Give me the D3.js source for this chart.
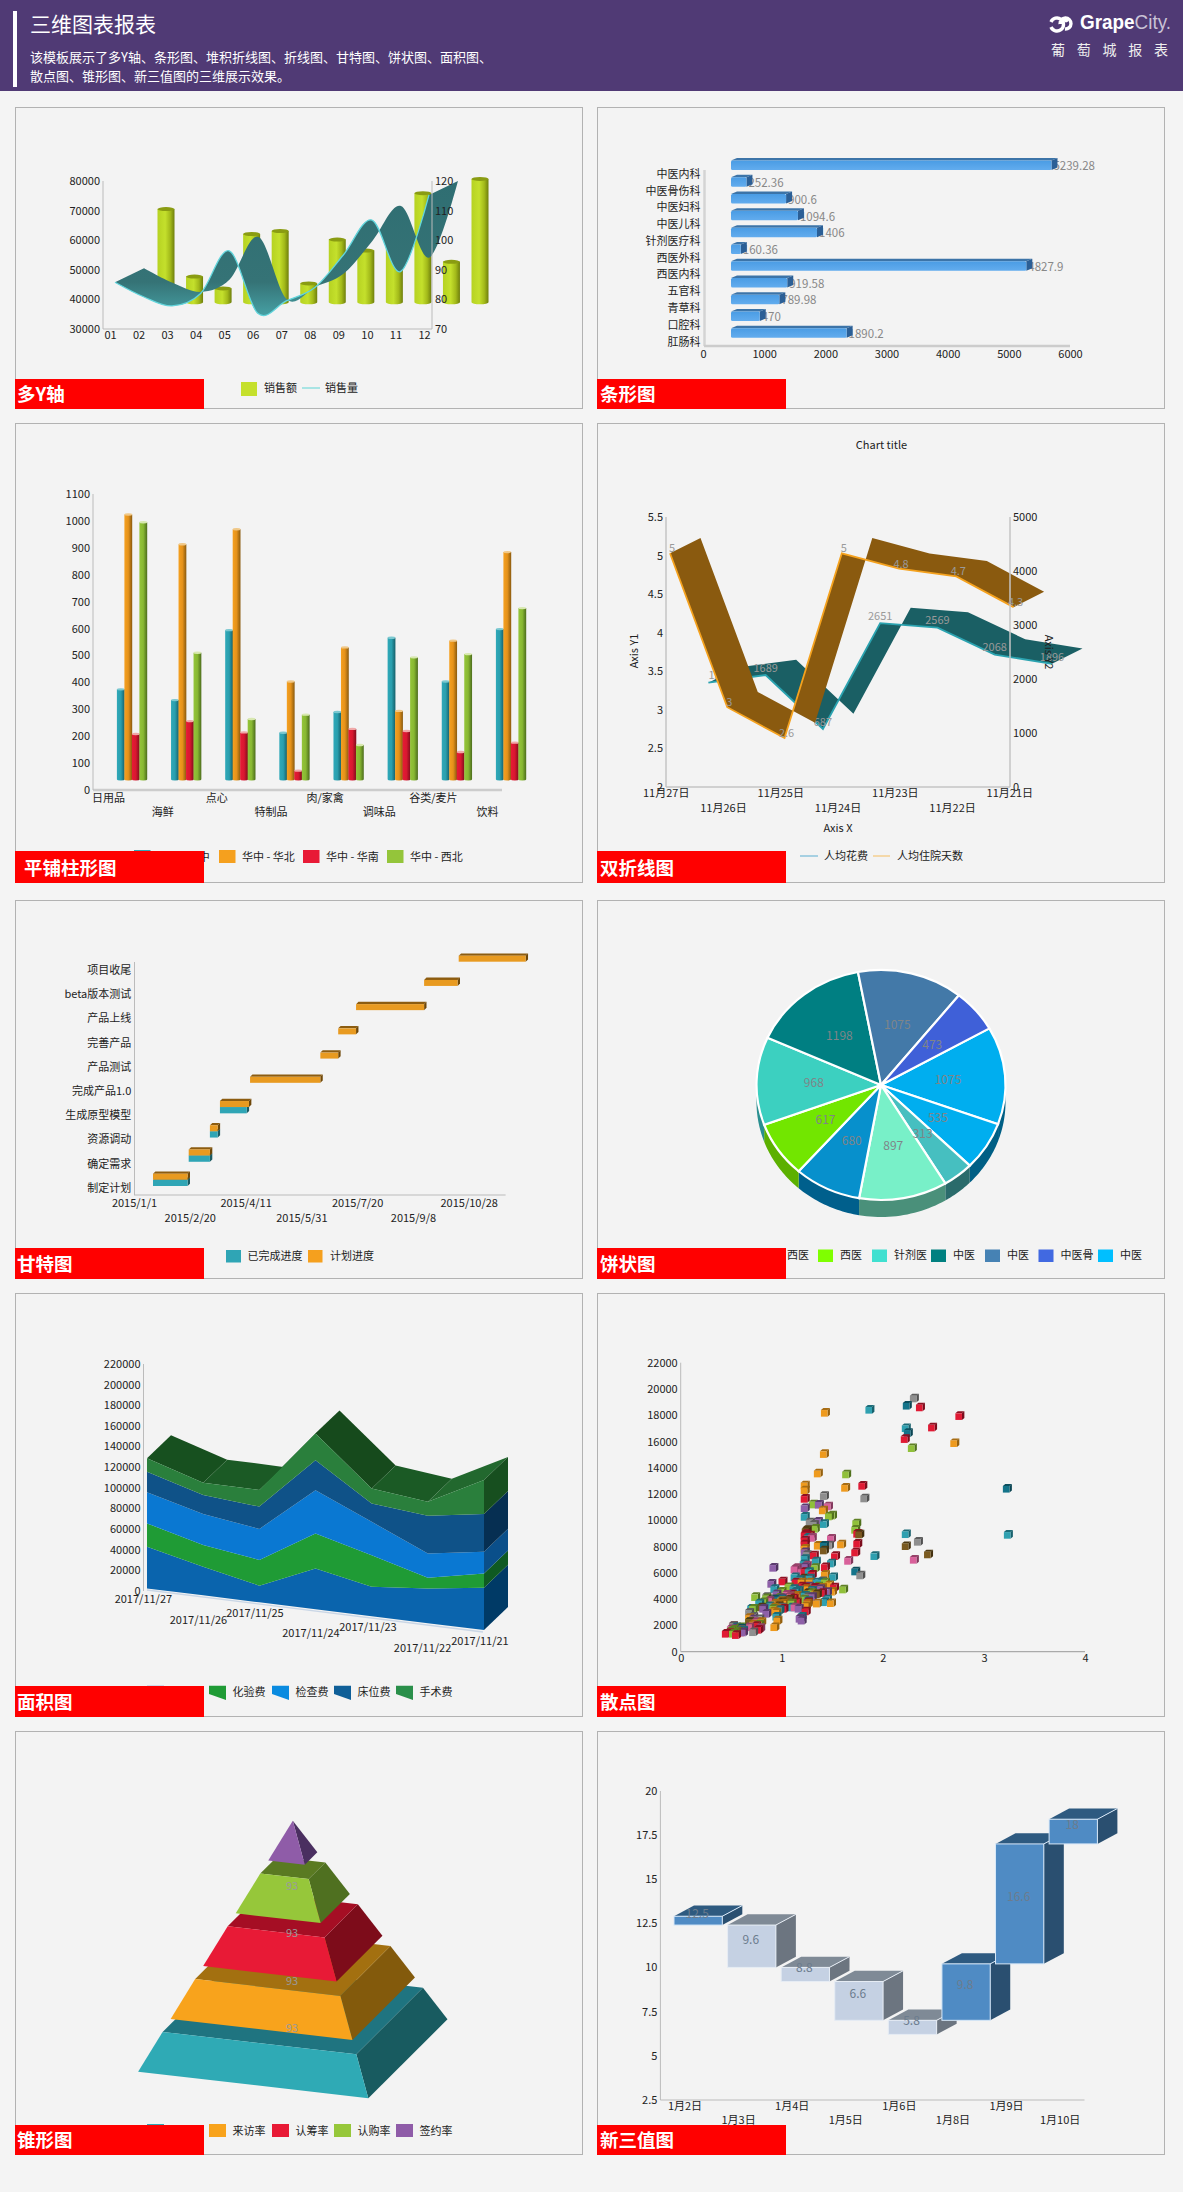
<!DOCTYPE html>
<html><head><meta charset="utf-8">
<script src="https://cdn.jsdelivr.net/npm/d3@7/dist/d3.min.js"></script>
<style>html,body{margin:0;padding:0;background:#f4f4f4}svg{display:block}</style>
</head><body><div id="c"></div>
<script>
// ---------- data ----------
const months=['01','02','03','04','05','06','07','08','09','10','11','12'];
const salesAmount=[70500,47700,43700,62100,63100,45400,60200,56500,59500,75900,52700,80700];
const salesVolume=[85.8,80.9,77.8,82,96.4,75.3,79.5,84,95,106.8,89.4,115.3];

const deptNames=['中医内科','中医骨伤科','中医妇科','中医儿科','针剂医疗科','西医外科','西医内科','五官科','青草科','口腔科','肛肠科'];
const deptValues=[5239.28,252.36,900.6,1094.6,1406,160.36,4827.9,919.58,789.98,470,1890.2];

const goodsCats=['日用品','海鲜','点心','特制品','肉/家禽','调味品','谷类/麦片','饮料'];
const regionNames=['华中 - 华中','华中 - 华北','华中 - 华南','华中 - 西北'];
const regionCC=[374,334,594,213,290,566,403,598];
const regionCN=[1024,913,969,403,530,294,555,884];
const regionCS=[208,256,214,72,227,219,141,176];
const regionCW=[995,510,264,280,167,493,505,676];

const dayLabels=['11月27日','11月26日','11月25日','11月24日','11月23日','11月22日','11月21日'];
const daysInHospital=[5,3,2.6,5,4.8,4.7,4.3];
const avgCost=[1547,1689,687,2651,2569,2068,1896];

const taskNames=['项目收尾','beta版本测试','产品上线','完善产品','产品测试','完成产品1.0','生成原型模型','资源调动','确定需求','制定计划'];
const planStart=['2015-10-02','2015-09-01','2015-07-02','2015-06-16','2015-05-31','2015-03-29','2015-03-02','2015-02-21','2015-02-02','2015-01-01'];
const planEnd=['2015-12-01','2015-10-01','2015-09-01','2015-07-02','2015-06-16','2015-05-31','2015-03-28','2015-02-28','2015-02-21','2015-02-01'];
const doneEnd=[null,null,null,null,null,null,'2015-03-26','2015-02-28','2015-02-21','2015-02-01'];
const ganttTicks=['2015-01-01','2015-02-20','2015-04-11','2015-05-31','2015-07-20','2015-09-08','2015-10-28'];
const ganttTickLabels=['2015/1/1','2015/2/20','2015/4/11','2015/5/31','2015/7/20','2015/9/8','2015/10/28'];

const pieValues=[1075,535,313,897,680,617,968,1198,1075,473];
const pieLegend=['西医','西医','针剂医','中医','中医','中医骨','中医'];

const areaDates=['2017/11/27','2017/11/26','2017/11/25','2017/11/24','2017/11/23','2017/11/22','2017/11/21'];
const areaBed=[40450,27830,16180,39480,28480,33660,41100];
const areaLab=[22650,21040,24920,33980,30740,10360,13920];
const areaExam=[30100,30100,30100,42070,32360,23620,21040];
const areaWard=[20060,18450,21680,29130,17800,36570,36570];
const areaSurgery=[12950,11970,16180,25890,14560,13590,33010];
const areaLegend=['药品费','化验费','检查费','床位费','手术费'];

const scatterTeal=[[1.87,18450],[2.23,17050],[3.24,8930],[2.23,8980],[1.92,7310],[1.23,10300],[1.42,9750],[1.49,6750],[1.51,5710],[.55,1900],[.62,1650],[.7,3300],[.78,3700],[.95,2700],[.93,4800],[1.1,3400],[1.14,4600],[1.2,2700],[1.23,7100],[1.22,6700],[1.28,5600],[1.3,4700],[1.34,6900],[1.4,5300],[1.42,3800],[1.45,4000],[1.26,3900],[1.18,5500],[1.13,5700],[1,4000],[1.26,8700],[.88,3500],[.98,3200],[1.17,4700],[1.35,5300],[1.23,4300],[1.27,6100],[1.12,4800]];
const scatterDarkTeal=[[2.24,18760],[2.25,16680],[3.23,12440],[1.73,6140],[1.42,8100],[.6,1800],[.94,4000]];
const scatterOrange=[[1.43,18220],[1.42,15080],[1.36,13600],[1.63,12510],[2.71,15910],[1.59,8200],[1.23,12690],[1.23,12310],[1.41,10790],[1.49,3730],[.93,1900],[1.23,7870],[1.43,5890],[.68,2600],[.72,2100],[.95,3000],[.93,3400],[.97,3600],[1,3900],[1.02,3700],[1.24,3500],[1.26,3700],[1.35,3700],[1.4,4900],[1.47,5100],[1.5,4600],[1.2,5300],[1.28,5300],[1.15,4300],[1.24,4800],[.96,2400],[.8,2300],[1.08,4200],[1.33,4400],[1.36,8100],[.92,3100],[.98,3300],[.94,3700]];
const scatterRed=[[2.37,18630],[2.76,17970],[2.49,17100],[2.22,16220],[1.8,12660],[1.23,11670],[1.75,8250],[1.73,7590],[1.53,7310],[1.32,7360],[1.43,6470],[1.01,5380],[1.23,8880],[1.28,8880],[1.52,4920],[1.75,9010],[.45,1400],[.48,1450],[.55,1300],[.6,1500],[.52,2000],[.75,2000],[.77,1700],[1.12,4100],[1.1,4400],[1.15,3800],[1.23,4900],[1.26,3800],[1.23,8500],[1.23,8200],[1.23,6100],[1.24,3100],[1.2,5000],[1.4,4500],[1.02,3300],[1.14,5300],[1.33,4900],[1.3,5900],[1.24,9000]];
const scatterGreen=[[2.29,15530],[1.64,13530],[1.31,11240],[1.47,10330],[1.33,9390],[1.74,9800],[1.73,9310],[1.61,4770],[1.33,6400],[1.07,4950],[.74,4190],[.98,4140],[.52,1400],[.6,1900],[.5,1600],[.55,1450],[.72,3300],[.68,2300],[.85,4100],[.82,3800],[.92,3300],[1.22,4000],[1.3,4500],[1.1,3700],[1.36,5000],[.58,1800],[1,4600],[.78,2100],[1.43,5300],[1.5,10400],[.53,1700],[.57,1550]];
const scatterGray=[[2.31,19310],[2.35,8400],[1.42,11880],[1.82,11700],[1.78,5840],[1.28,9870],[1.47,8120],[.68,2990],[.72,1520],[.52,2000],[.6,1700],[.85,4200],[.92,4000],[.72,2700],[1.26,4200],[1,3400],[1.32,9700],[.78,2500],[1.25,7400],[1.4,5400]];
const scatterPurple=[[1.37,11220],[1.23,10960],[1.36,9920],[.92,6420],[.9,5200],[1.23,6470],[1.18,2540],[1.45,4570],[.85,2920],[.55,1800],[.72,2500],[.82,3300],[.95,4400],[1.2,2400],[1.27,5000],[1,4100],[1.3,4200],[1.23,7600],[1.17,3300],[1.38,4800],[.62,1500]];
const scatterPink=[[1.46,11090],[1.49,8630],[1.66,6950],[2.31,7030],[1.13,6290],[1.05,4370],[.79,1830],[.5,1750],[.68,1900],[.75,2300],[1.08,4200],[1.15,6400],[1.2,6100],[.88,3900],[1.25,6600],[1.13,3400],[1.3,8700]];
const scatterBrown=[[2.23,8070],[2.45,7440],[1.24,9190],[1.42,7740],[1.77,8960],[.68,2300],[.8,3400],[.9,4000],[1,3800],[1.08,4000],[1.26,4500],[1.35,4400],[.97,3500],[1.25,9300],[1.22,5600]];

const stageNames=['到访率','来访率','认筹率','认购率','签约率'];
const stageLabels=[93,93,93,93];

const boxDays=['1月2日','1月3日','1月4日','1月5日','1月6日','1月8日','1月9日','1月10日'];
const boxLow=[12,12,9.6,8.8,6.6,6.6,9.8,16.6];
const boxHigh=[12.5,9.6,8.8,6.6,5.8,9.8,16.6,18];
const boxText=['12.5','9.6','8.8','6.6','5.8','9.8','16.6','18'];

// ---------- helpers ----------
const FONT='"Noto Sans CJK SC","Noto Sans",sans-serif';
const svg=d3.select('#c').append('svg').attr('width',1183).attr('height',2192).attr('font-family',FONT);
const defs=svg.append('defs');
function grad(id,stops,vertical){
  const g=defs.append('linearGradient').attr('id',id).attr('x1',0).attr('y1',0).attr('x2',vertical?0:1).attr('y2',vertical?1:0);
  stops.forEach(s=>g.append('stop').attr('offset',s[0]).attr('stop-color',s[1]));
}
function txt(p,x,y,s,o={}){
  const t=p.append('text').attr('x',x).attr('y',y).attr('dy','.35em').attr('font-size',o.size||11).attr('fill',o.fill||'#222').attr('text-anchor',o.anchor||'start').text(s);
  if(o.weight)t.attr('font-weight',o.weight);
  if(o.rotate)t.attr('transform',`rotate(${o.rotate},${x},${y})`);
  return t;
}
function rect(p,x,y,w,h,f){return p.append('rect').attr('x',x).attr('y',y).attr('width',w).attr('height',h).attr('fill',f);}
function poly(p,pts,f){return p.append('polygon').attr('points',pts.map(q=>q.join(',')).join(' ')).attr('fill',f);}
function hline(p,x0,x1,y,w,c){return p.append('line').attr('x1',x0).attr('x2',x1).attr('y1',y).attr('y2',y).attr('stroke',c||'#bbb').attr('stroke-width',w||1);}
function vline(p,x,y0,y1,w,c){return p.append('line').attr('x1',x).attr('x2',x).attr('y1',y0).attr('y2',y1).attr('stroke',c||'#bbb').attr('stroke-width',w||1);}
function axisStyle(s){
  s.attr('font-family',FONT).attr('font-size',11);
  s.selectAll('.domain').remove();
  s.selectAll('.tick line').remove();
  s.selectAll('text').attr('fill','#222');
}
function yAxis(p,scale,x,vals,orient){
  const a=(orient==='right'?d3.axisRight(scale):d3.axisLeft(scale)).tickValues(vals).tickSize(0).tickPadding(3).tickFormat(d=>String(d));
  return p.append('g').attr('transform',`translate(${x},0)`).call(a).call(axisStyle);
}
function xAxis(p,scale,y,row2,fmt){
  const a=d3.axisBottom(scale).tickSize(0);
  if(fmt)a.tickFormat(fmt);
  const g=p.append('g').attr('transform',`translate(0,${y})`).call(a).call(axisStyle);
  g.selectAll('.tick text').attr('dy','.35em').attr('y',(d,i)=>i%2?row2:0);
  return g;
}
function cylinderPath(cx,rx,ry,yT,yB){return `M${cx-rx},${yT}V${yB}A${rx},${ry} 0 0 0 ${cx+rx},${yB}V${yT}Z`;}
function cylinder(p,cx,rx,ry,yT,yB,fillId,cap){
  p.append('path').attr('d',cylinderPath(cx,rx,ry,yT,yB)).attr('fill',`url(#${fillId})`);
  p.append('ellipse').attr('cx',cx).attr('cy',yT).attr('rx',rx).attr('ry',ry).attr('fill',cap);
}
function ribbonPath(line,pts,dx,dy){
  const back=pts.map(q=>[q[0]+dx,q[1]+dy]).reverse();
  return line(pts)+'L'+line(back).slice(1)+'Z';
}

// ---------- page frame ----------
rect(svg,0,0,1183,91,'#503a75');
rect(svg,13,11,4,76,'#fff');
txt(svg,30,25,'三维图表报表',{size:21,fill:'#fff'});
txt(svg,30,57,'该模板展示了多Y轴、条形图、堆积折线图、折线图、甘特图、饼状图、面积图、',{size:13,fill:'#fff'});
txt(svg,30,76,'散点图、锥形图、新三值图的三维展示效果。',{size:13,fill:'#fff'});
svg.append('path').attr('d','M1051,22A6.5,6.5 0 1 1 1051,27M1060,24A5.5,5.5 0 1 1 1065,29').attr('fill','none').attr('stroke','#fff').attr('stroke-width',3.4);
svg.append('circle').attr('cx',1066).attr('cy',20).attr('r',2.4).attr('fill','#fff');
const logo=svg.append('text').attr('x',1080).attr('y',29).attr('font-family','"Liberation Sans",sans-serif').attr('font-size',21).attr('textLength',91).attr('lengthAdjust','spacingAndGlyphs');
logo.append('tspan').attr('fill','#fff').attr('font-weight','bold').text('Grape');
logo.append('tspan').attr('fill','#c9c2d6').text('City.');
txt(svg,1051,50,'葡 萄 城 报 表',{size:14,fill:'#eee'}).attr('textLength',117);

const cols=[15,597];
const rows=[[107,408],[423,882],[900,1278],[1293,1716],[1731,2154]];
const tagTops=[379,851,1248,1686,2125];
const tagTexts=[['多Y轴','条形图'],['平铺柱形图','双折线图'],['甘特图','饼状图'],['面积图','散点图'],['锥形图','新三值图']];
const tagIndent=[[2,3],[9,3],[2,3],[2,3],[2,3]];
rows.forEach(r=>cols.forEach(x=>{
  svg.append('rect').attr('x',x+.5).attr('y',r[0]+.5).attr('width',567).attr('height',r[1]-r[0]).attr('fill','#f3f3f3').attr('stroke','#b2b2b2');
}));
const chart=svg.append('g');

// ---------- 1. dual Y axis ----------
(function(){
  const g=chart.append('g');
  grad('cylLime',[[0,'#b6d222'],[.45,'#c4e02c'],[.75,'#a3ba1a'],[1,'#6f7f0c']]);
  grad('ribbonTeal',[[0,'#2f6e72'],[.75,'#357376'],[1,'#46a0a4']],true);
  const yL=d3.scaleLinear([30000,80000],[329,181]);
  const yR=d3.scaleLinear([70,120],[329,181]);
  const x=d3.scalePoint(months,[110,424]);
  vline(g,103,181,329);hline(g,103,432,329);
  salesAmount.forEach((v,i)=>cylinder(g,x(months[i])+56,8.5,2,yL(v),yL(39000),'cylLime','#8a9c12'));
  const pts=salesVolume.map((v,i)=>[x(months[i])+5,yR(v)]);
  const line=d3.line().curve(d3.curveCatmullRom.alpha(0));
  g.append('path').attr('d',ribbonPath(line,pts,29,-14)).attr('fill','url(#ribbonTeal)');
  g.append('path').attr('d',line(pts)).attr('fill','none').attr('stroke','#62d5dc').attr('stroke-width',1.3);
  vline(g,432,181,329);
  yAxis(g,yL,103,d3.range(30000,80001,10000));
  yAxis(g,yR,432,d3.range(70,121,10),'right');
  const a=g.append('g').attr('transform','translate(0,332)').call(d3.axisBottom(x).tickSize(0)).call(axisStyle);
  a.selectAll('text').attr('y',0).attr('dy','.6em');
  rect(g,241,382,16,14,'#c5e02c');txt(g,264,388,'销售额');
  hline(g,302,320,388,2,'#a8e4e4');txt(g,325,388,'销售量');
})();

// ---------- 2. horizontal bars ----------
(function(){
  const g=chart.append('g');
  grad('barBlue',[[0,'#4a9ce4'],[1,'#62acee']],true);
  const x=d3.scaleLinear([0,6000],[703,1070]);
  const y=d3.scalePoint(deptNames,[174,341.7]);
  deptNames.forEach((n,i)=>{
    const x0=x(0)+28, x1=x0+x(deptValues[i])-x(0), yc=y(n)-8.7, h=9.5;
    txt(g,x1+2,yc+1,String(deptValues[i]),{fill:'#888',size:11.5});
    poly(g,[[x0,yc-h/2],[x0+6,yc-h/2-2.5],[x1+6,yc-h/2-2.5],[x1,yc-h/2]],'#3c74a8');
    poly(g,[[x1,yc-h/2],[x1+6,yc-h/2-2.5],[x1+6,yc+h/2-2.5],[x1,yc+h/2]],'#2b5f96');
    g.append('rect').attr('x',x0).attr('y',yc-h/2).attr('width',x1-x0).attr('height',h).attr('rx',1.5).attr('fill','url(#barBlue)');
    txt(g,700.5,y(n),n,{anchor:'end'});
  });
  vline(g,704.5,170,346,2.5,'#d4d4d4');hline(g,704,1070,346,2.5,'#ccc');
  const a=g.append('g').attr('transform','translate(0,354)').call(d3.axisBottom(x).tickValues(d3.range(0,6001,1000)).tickSize(0).tickFormat(d=>String(d))).call(axisStyle);
  a.selectAll('text').attr('y',0).attr('dy','.35em');
})();

// ---------- 3. flat column chart ----------
(function(){
  const g=chart.append('g');
  const series=[regionCC,regionCN,regionCS,regionCW];
  const styles=[['cylTeal',[[0,'#2fa8b8'],[.5,'#2a9fae'],[1,'#155f6a']],'#7cc8d0'],['cylOrange',[[0,'#f5a020'],[.5,'#e5921a'],[1,'#8a5a0e']],'#f0c888'],['cylRed',[[0,'#e81a36'],[.5,'#d81830'],[1,'#800c1c']],'#f0a8a8'],['cylGreen',[[0,'#94c53a'],[.5,'#88b832'],[1,'#4c6c1c']],'#d8e8b0']];
  styles.forEach(s=>grad(s[0],s[1]));
  const y=d3.scaleLinear([0,1100],[790,494]);
  const x=d3.scalePoint(goodsCats,[108,487]);
  hline(g,93,502,790,2.5,'#ccc');vline(g,93,494,790);
  goodsCats.forEach((c,i)=>series.forEach((s,j)=>{
    cylinder(g,x(c)+12.8+j*7.5,3.9,1.2,y(s[i]),y(40),styles[j][0],styles[j][2]);
  }));
  yAxis(g,y,93,d3.range(0,1101,100));
  xAxis(g,x,798,14);
  const cols3=['#2fa5b5','#f5a01e','#e81a36','#94c53a'];
  const sx=[134,219,303,387];
  regionNames.forEach((n,i)=>{rect(g,sx[i],850,16.5,13,cols3[i]);txt(g,sx[i]+23,857,n);});
})();

// ---------- 4. double line ribbons ----------
(function(){
  const g=chart.append('g');
  const y1=d3.scaleLinear([2,5.5],[786.7,517.3]);
  const y2=d3.scaleLinear([0,5000],[786.7,517.3]);
  const x=d3.scalePoint(dayLabels,[665.7,1009.3]);
  const line=d3.line();
  const teal=avgCost.map((v,i)=>[x(dayLabels[i])+42.7,y2(v)-20.7]);
  const org=daysInHospital.map((v,i)=>[x(dayLabels[i])+4.3,y1(v)-2.5]);
  vline(g,666,517,787,1.5,'#c4c4c4');hline(g,666,1010,787,1.5,'#c4c4c4');
  g.append('path').attr('d',ribbonPath(line,teal,30.5,-15.3)).attr('fill','#1a5f64');
  g.append('path').attr('d',line(teal)).attr('fill','none').attr('stroke','#2ba3b0').attr('stroke-width',1.8);
  teal.forEach((q,i)=>txt(g,q[0],q[1]-7,String(avgCost[i]),{anchor:i?'middle':'start',fill:'#9a9a9a'}));
  g.append('path').attr('d',ribbonPath(line,org,30.5,-15.3)).attr('fill','#8a5a0f');
  g.append('path').attr('d',line(org)).attr('fill','none').attr('stroke','#f5a21e').attr('stroke-width',1.8);
  vline(g,1010,517,787,1.5,'#c4c4c4');
  org.forEach((q,i)=>txt(g,q[0]+2,q[1]-5,String(daysInHospital[i]),{anchor:'middle',fill:'#9a9a9a'}));
  yAxis(g,y1,666,d3.range(2,5.51,.5));
  yAxis(g,y2,1010,d3.range(0,5001,1000),'right');
  xAxis(g,x,793,15);
  txt(g,881.5,445,'Chart title',{anchor:'middle'});
  txt(g,838,828,'Axis X',{anchor:'middle'});
  txt(g,634,651,'Axis Y1',{anchor:'middle',rotate:-90});
  txt(g,1049,652,'Axis Y2',{anchor:'middle',rotate:90});
  hline(g,800,818,856,1.5,'#8cc4dc');txt(g,824,856,'人均花费');
  hline(g,873,890,856,1.5,'#f5cf90');txt(g,897,856,'人均住院天数');
})();

// ---------- 5. gantt ----------
(function(){
  const g=chart.append('g');
  const parse=d3.utcParse('%Y-%m-%d');
  const x=d3.scaleUtc([parse('2015-01-01'),parse('2015-10-28')],[134,468.7]);
  const y=d3.scalePoint(taskNames,[970,1188]);
  vline(g,134.5,962,1195);hline(g,134,505.6,1195,1.2,'#bbb');
  const dx=2.4,dy=2.3,off=19;
  function bar(xa,xb,yt,h,f,top,side){
    poly(g,[[xa,yt],[xa+dx,yt-dy],[xb+dx,yt-dy],[xb,yt]],top);
    poly(g,[[xb,yt],[xb+dx,yt-dy],[xb+dx,yt+h-dy],[xb,yt+h]],side);
    rect(g,xa,yt,xb-xa,h,f);
  }
  taskNames.forEach((n,i)=>{
    txt(g,131.3,y(n),n,{anchor:'end'});
    const xa=x(parse(planStart[i]))+off,xb=x(parse(planEnd[i]))+off;
    if(doneEnd[i]) bar(xa,x(parse(doneEnd[i]))+off,y(n)-8.3,6.3,'#2fa5b5','#1a6a74','#1a5a62');
    bar(xa,xb,y(n)-14.3,6,'#e89a20','#8c5c10','#6e4708');
  });
  const a=d3.axisBottom(x).tickValues(ganttTicks.map(parse)).tickSize(0).tickFormat((d,i)=>ganttTickLabels[i]);
  const ag=g.append('g').attr('transform','translate(0,1203)').call(a).call(axisStyle);
  ag.selectAll('.tick text').attr('dy','.35em').attr('y',(d,i)=>i%2?15:0);
  rect(g,226,1250,15,12.5,'#2fa5b5');txt(g,247.5,1256,'已完成进度');
  rect(g,308,1250,14.5,12.5,'#f5a01e');txt(g,330,1256,'计划进度');
})();

// ---------- 6. pie ----------
(function(){
  const g=chart.append('g');
  const cx=881,cy=1085,rx=124.5,ry=115,depth=17;
  const rad=d=>d*Math.PI/180;
  const colours=['#00aeef','#00aeef','#46bfc0','#78f0c8','#0790cc','#72e600','#3cd0c0','#007f82','#4379a8','#3f60d8'];
  const walls=['#005f85','#005f85','#2a6b6b','#4a907a','#005f8c','#5cb000','#2a8f90','#005f60','#305878','#2a4090'];
  const arcs=d3.pie().sort(null).startAngle(rad(60.5)).endAngle(rad(420.5))(pieValues);
  arcs.forEach((a,i)=>{
    const a0=Math.max(a.startAngle,rad(90)),a1=Math.min(a.endAngle,rad(270));
    if(a1<=a0)return;
    const n=24,top=d3.range(n+1).map(k=>{const t=a0+(a1-a0)*k/n;return [cx+rx*Math.sin(t),cy-ry*Math.cos(t)];});
    poly(g,top.concat(top.map(q=>[q[0],q[1]+depth]).reverse()),walls[i]);
  });
  const pg=g.append('g').attr('transform',`translate(${cx},${cy}) scale(1,${ry/rx})`);
  const arc=d3.arc().innerRadius(0).outerRadius(rx);
  pg.selectAll('path').data(arcs).join('path').attr('d',arc).attr('fill',(d,i)=>colours[i]).attr('stroke','#fff').attr('stroke-width',2.2).attr('vector-effect','non-scaling-stroke');
  const lab=d3.arc().innerRadius(rx*.54).outerRadius(rx*.54);
  arcs.forEach(a=>{const c=lab.centroid(a);txt(g,cx+c[0],cy+c[1]*ry/rx,String(a.value),{anchor:'middle',fill:'#7f8588',size:12});});
  const sw=['#0099cc','#7fff00','#40e0d0','#008080','#4682b4','#4169e1','#00bfff'];
  const lx=[765,818,872,931,985,1038.5,1098];
  pieLegend.forEach((n,i)=>{rect(g,lx[i],1249.5,15,12.5,sw[i]);txt(g,lx[i]+22,1255.5,n);});
})();

// ---------- 7. 3D area ----------
(function(){
  const g=chart.append('g');
  const y=d3.scaleLinear([0,220000],[1590.7,1364]);
  const x=d3.scalePoint(areaDates,[147,484]);
  const layers=[areaBed,areaLab,areaExam,areaWard,areaSurgery];
  const fronts=['#0a64ad','#1f9b35','#0a78d2','#0f5288','#2a7f3c'];
  const sides=['#003a66','#0f5a22','#0a4f8a','#062f52','#174f1f'];
  const topFaces=['#17501f','#1b5a25','#17501f','#164a1c','#1b5a25','#22682e'];
  const skew=i=>-2.3+i*6.95;
  const stack=d3.stack().keys(d3.range(5)).value((d,k)=>layers[k][d])(d3.range(7));
  const px=i=>x(areaDates[i]), dx=24, dy=-23;
  vline(g,143.5,1364,1591);
  const last=stack[4];
  d3.range(6).forEach(i=>{
    const a=[px(i),y(last[i][1])+skew(i)],b=[px(i+1),y(last[i+1][1])+skew(i+1)];
    poly(g,[a,b,[b[0]+dx,b[1]+dy],[a[0]+dx,a[1]+dy]],topFaces[i]);
  });
  stack.forEach((s,k)=>{
    const up=s.map((d,i)=>[px(i),y(d[1])+skew(i)]);
    const lo=s.map((d,i)=>[px(i),y(d[0])+skew(i)]).reverse();
    const n=6,a=[px(n),y(s[n][1])+skew(n)],b=[px(n),y(s[n][0])+skew(n)];
    poly(g,[a,b,[b[0]+dx,b[1]+dy],[a[0]+dx,a[1]+dy]],sides[k]);
    poly(g,up.concat(lo),fronts[k]);
  });
  g.append('line').attr('x1',147).attr('y1',1590).attr('x2',483).attr('y2',1632).attr('stroke','#c9d6e6').attr('stroke-width',1.4);
  yAxis(g,y,143.5,d3.range(0,220001,20000));
  const rowsY=[1599,1620,1612.7,1633,1626.7,1647.7,1640.7];
  const dateX=[143.4,198.5,255,311,368,422.6,480];
  areaDates.forEach((d,i)=>txt(g,dateX[i],rowsY[i],d,{anchor:'middle'}));
  const sw=['#5b8fd0','#1f9b35','#0a8be0','#0f5f98','#2a8f4a'];
  const lx=[147,209,272,334,396];
  areaLegend.forEach((n,i)=>{
    poly(g,[[lx[i],1685.7],[lx[i]+17,1685.7],[lx[i]+17,1700],[lx[i],1694]],sw[i]);
    txt(g,lx[i]+23.5,1692,n);
  });
})();

// ---------- 8. scatter of small cubes ----------
(function(){
  const g=chart.append('g');
  const x=d3.scaleLinear([0,4],[680.7,1085]);
  const y=d3.scaleLinear([0,22000],[1651.7,1362.7]);
  vline(g,680.7,1362.7,1651.7);hline(g,680.7,1085,1651.7,1.2,'#aaa');
  const sets=[[scatterTeal,'#2fa0b0','#1d6c78','#17606c'],[scatterDarkTeal,'#14748a','#0c4f5e','#0a4452'],[scatterOrange,'#ee9a1e','#a86c12','#94600e'],[scatterRed,'#e01a34','#8e1022','#7c0c1c'],[scatterGreen,'#90c03a','#5f8024','#50701c'],[scatterGray,'#8f8f8f','#5e5e5e','#505050'],[scatterPurple,'#8e60a8','#5c3c70','#4e3260'],[scatterPink,'#d8609a','#964068','#80365a'],[scatterBrown,'#7a5a20','#4e3a12','#42300e']];
  const all=d3.merge(sets.map(s=>s[0].map(q=>({x:q[0],y:q[1],s}))));
  all.sort((a,b)=>b.y-a.y||a.x-b.x);
  const w=6.6,dx=2.4,dy=2;
  all.forEach(d=>{
    const fx=x(d.x)-w/2-1,fy=y(d.y)-w/2+1;
    poly(g,[[fx,fy],[fx+dx,fy-dy],[fx+w+dx,fy-dy],[fx+w,fy]],d.s[2]);
    poly(g,[[fx+w,fy],[fx+w+dx,fy-dy],[fx+w+dx,fy+w-dy],[fx+w,fy+w]],d.s[3]);
    rect(g,fx,fy,w,w,d.s[1]);
  });
  yAxis(g,y,680.7,d3.range(0,22001,2000));
  const a=g.append('g').attr('transform','translate(0,1658)').call(d3.axisBottom(x).tickValues([0,1,2,3,4]).tickSize(0).tickFormat(d=>String(d))).call(axisStyle);
  a.selectAll('text').attr('y',0).attr('dy','.35em');
})();

// ---------- 9. pyramid ----------
(function(){
  const g=chart.append('g');
  const FL=[138.1,2071.7],FR=[368.3,2098.3],BR=[447.5,2019.3],AP=[292.8,1820.7];
  const lerp=(c,t)=>[c[0]+(AP[0]-c[0])*t,c[1]+(AP[1]-c[1])*t];
  const band=d3.scaleBand(stageNames,[0,1]).paddingInner(.246);
  const front=['#2faab5','#f8a31c','#e81a36','#96c73a','#8f5ca8'];
  const topC=['#1f7480','#a37010','#a50e24','#5a7a22','#5a3a70'];
  const side=['#185b60','#835a0c','#7d0c1a','#4f7020','#4a2f60'];
  stageNames.forEach((n,i)=>{
    const a=band(n),b=a+band.bandwidth();
    const fl0=lerp(FL,a),fr0=lerp(FR,a),br0=lerp(BR,a),fl1=lerp(FL,b),fr1=lerp(FR,b),br1=lerp(BR,b);
    const bl1=[fl1[0]+br1[0]-fr1[0],fl1[1]+br1[1]-fr1[1]];
    poly(g,[fr0,br0,br1,fr1],side[i]);
    poly(g,[fl1,fr1,br1,bl1],topC[i]);
    poly(g,[fl0,fr0,fr1,fl1],front[i]);
  });
  const ly=d3.scaleLinear([0,3],[2028,1886]);
  stageLabels.forEach((v,i)=>txt(g,292,ly(i),String(v),{anchor:'middle',fill:'#9a9a9a'}));
  const sw=['#2fa5b5','#f8a31c','#e81a36','#96c73a','#8f5ca8'];
  const lx=[147,209,272,334,396];
  stageNames.forEach((n,i)=>{rect(g,lx[i],2124,17,13,sw[i]);txt(g,lx[i]+23.5,2130.7,n);});
})();

// ---------- 10. three-value boxes ----------
(function(){
  const g=chart.append('g');
  const y=d3.scaleLinear([2.5,20],[2099.7,1791]);
  const x=d3.scalePoint(boxDays,[684.5,1059.6]);
  vline(g,660.4,1791,2100);hline(g,660.4,1084.5,2100,1.2,'#bbb');
  const w=48.3,dx=20,dy=-10.7,lift=-7.06;
  boxDays.forEach((d,i)=>{
    const up=boxHigh[i]>boxLow[i];
    const t=y(Math.max(boxHigh[i],boxLow[i]))+lift,b=y(Math.min(boxHigh[i],boxLow[i]))+lift;
    const l=x(d)-10.5,r=l+w;
    const c=up?['#4f8bc4','#2e5a80','#2a4f70','#d8e8f8']:['#c5d1e3','#7f8a96','#6c7580','#e6ecf4'];
    poly(g,[[r,t],[r+dx,t+dy],[r+dx,b+dy],[r,b]],c[2]);
    poly(g,[[l,t],[l+dx,t+dy],[r+dx,t+dy],[r,t]],c[1]);
    g.append('rect').attr('x',l).attr('y',t).attr('width',w).attr('height',b-t).attr('fill',c[0]).attr('stroke',c[3]);
    g.append('line').attr('x1',r).attr('y1',t).attr('x2',r+dx).attr('y2',t+dy).attr('stroke',c[3]);
    txt(g,l+w/2-1,(t+dy+b)/2-1.5,boxText[i],{anchor:'middle',fill:'#6c7c8e',size:12});
  });
  yAxis(g,y,660.4,d3.range(2.5,20.1,2.5));
  xAxis(g,x,2106,14);
})();

// ---------- red tags drawn on top ----------
rows.forEach((r,i)=>cols.forEach((x,j)=>{
  rect(svg,x,tagTops[i],189,r[1]+1-tagTops[i],'#ff0000');
  txt(svg,x+tagIndent[i][j],r[1]-13,tagTexts[i][j],{size:18.5,weight:'bold',fill:'#fff'});
}));
</script></body></html>
